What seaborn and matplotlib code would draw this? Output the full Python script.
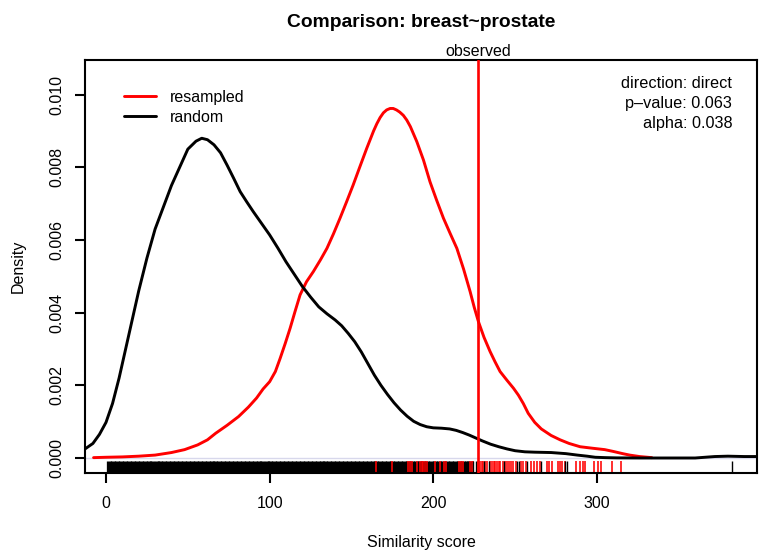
import matplotlib
matplotlib.use("Agg")
import matplotlib.pyplot as plt
import seaborn as sns
import pandas as pd

# ---------------- data ----------------
random_x = [-12.8, -8, -4, 0, 4, 8, 12, 16, 20, 25, 30, 35, 40, 45, 50, 55, 58.5,
            62, 66, 70, 74, 78, 82, 86, 90, 95, 100, 105, 110, 115, 120, 125, 130,
            135, 140, 144, 148, 152, 156, 160, 164, 168, 172, 176, 180, 184, 188,
            192, 196, 200, 205, 210, 214, 218, 222, 226, 230, 235, 240, 245, 250,
            256, 262, 272, 281, 288, 294, 299, 305, 312, 326, 345, 360, 366, 372,
            380, 390, 398]
random_y = [0.00025, 0.0004, 0.00065, 0.00098, 0.0015, 0.0022, 0.003, 0.0038,
            0.0046, 0.0055, 0.0063, 0.0069, 0.0075, 0.008, 0.0085, 0.00872,
            0.0088, 0.00876, 0.00862, 0.0084, 0.00806, 0.0077, 0.00733, 0.00705,
            0.00678, 0.00646, 0.00614, 0.00578, 0.0054, 0.00506, 0.00472, 0.00443,
            0.00416, 0.00397, 0.0038, 0.00364, 0.00343, 0.0032, 0.00292, 0.0026,
            0.00228, 0.002, 0.00175, 0.00152, 0.00132, 0.00115, 0.00101, 0.00092,
            0.00086, 0.00083, 0.00082, 0.0008, 0.00076, 0.0007, 0.00063, 0.00055,
            0.00047, 0.00038, 0.00031, 0.00025, 0.0002, 0.00017, 0.00016,
            0.00015, 0.00012, 0.00008, 0.00005, 0.00002, 0.00001, 0.000003, 0.0,
            0.0, 0.0, 0.00002, 0.00004, 0.00005, 0.00004, 0.00004]

resampled_x = [-7.6, 0, 10, 20, 30, 40, 48, 56, 62, 67, 74, 81, 87, 92, 96, 100,
               103.5, 106.4, 109.5, 112.5, 115.5, 118.6, 122.5, 126.7, 131, 135,
               139, 143, 147, 151, 155, 159.3, 163.5, 165.5, 167.5, 169.5, 171.5,
               173.6, 175.5, 177.5, 179.5, 181.7, 183.8, 186, 189.9, 194, 198, 202,
               206.2, 210.3, 214.4, 218.5, 222.5, 225, 227.6, 231, 234.7, 237.7,
               240.8, 245, 249, 252, 255, 258, 262, 266, 272, 277.5, 283, 289.7,
               297, 304.8, 310, 315.7, 320, 326, 333.5]
resampled_y = [0.00001, 0.00002, 0.00003, 0.00005, 0.00008, 0.00015, 0.00023,
               0.00036, 0.0005, 0.00068, 0.0009, 0.00114, 0.0014, 0.00165, 0.0019,
               0.0021, 0.00238, 0.00274, 0.00315, 0.00357, 0.00403, 0.00449,
               0.00485, 0.00513, 0.00545, 0.00577, 0.00617, 0.0066, 0.00705,
               0.00751, 0.008, 0.00852, 0.009, 0.0092, 0.00937, 0.0095, 0.00958,
               0.00962, 0.00962, 0.00958, 0.00952, 0.00943, 0.0093, 0.00912,
               0.00871, 0.0082, 0.0076, 0.0071, 0.0066, 0.00618, 0.00577, 0.0052,
               0.00458, 0.00415, 0.00375, 0.00332, 0.00293, 0.00265, 0.00238,
               0.00214, 0.00192, 0.00173, 0.0015, 0.00123, 0.00098, 0.0008,
               0.00062, 0.0005, 0.0004, 0.00031, 0.00027, 0.00023, 0.00018,
               0.00012, 0.00008, 0.00004, 0.00001]

# rug of random scores: dense part (solid block) and sparse part
random_rug_dense = [2, 4.3, 6.8, 9.1, 11.5, 14, 16.4, 18.7, 21.2, 23.6, 26, 28.3,
                    30.9, 33.2, 35.6, 38, 40.5, 42.8, 45.3, 47.7, 50, 52.4, 55,
                    57.3, 59.6, 62.1, 64.5, 66.9, 69.2, 71.8, 74.1, 76.5, 78.9,
                    81.3, 83.7, 86.1, 88.5, 91, 93.3, 95.6, 98.1, 100.5, 102.9,
                    105.3, 107.7, 110.1, 112.4, 114.9, 117.3, 119.7, 122.1, 124.5,
                    126.8, 129.3, 131.7, 134.1, 136.5, 138.9, 141.2, 143.7, 146.1,
                    148.5, 150.9, 153.2, 155.7, 158.1, 160.5, 162.9, 165.2, 167.6,
                    170, 172.4, 174.8, 177.2, 179.6, 182, 184.4, 186.8, 189.2,
                    191.6, 194, 196.4, 198.8, 201.2, 203.6, 206, 208.4, 210.8,
                    213.2, 215.6, 218, 220.4, 222]
random_rug_sparse = [224.2, 225.8, 231, 234, 243, 251.2, 252.6, 257, 266, 280.6,
                     281.4, 382.6]
# rug of resampled scores
resampled_rug = [165, 175, 184.4, 185.8, 187.2, 189.9, 191.8, 193, 194, 195, 196,
                 201, 204, 206.6, 207.8, 215.5, 217, 218.3, 222.5, 223.5, 224.4,
                 227.5, 228.5, 229.5, 230.5, 231.7, 233, 234.7, 236, 237, 238, 239,
                 240, 241, 242.3, 244, 245, 246, 247.5, 249, 250.5, 253.5, 255,
                 256.5, 260, 261.5, 263.5, 265, 269.4, 270.4, 272.4, 275.9, 277.5,
                 278.9, 280.5, 287.5, 289.7, 291.4, 292.8, 298.5, 300.5, 302.6,
                 309, 314.5]

observed = 227.6
series_labels = ["resampled", "random"]
info_lines = ["direction: direct", "p\u2013value: 0.063", "alpha: 0.038"]
title = "Comparison: breast~prostate"
x_ticks = [0, 100, 200, 300]
y_ticks = [0.000, 0.002, 0.004, 0.006, 0.008, 0.010]
y_ticklabels = ["0.000", "0.002", "0.004", "0.006", "0.008", "0.010"]

# ---------------- style ----------------
sns.set_style("ticks")
plt.rcParams["font.family"] = ["Liberation Sans", "DejaVu Sans"]
plt.rcParams["axes.linewidth"] = 1.5
plt.rcParams["text.color"] = "black"
plt.rcParams["axes.labelcolor"] = "black"
plt.rcParams["xtick.color"] = "black"
plt.rcParams["ytick.color"] = "black"

W, H = 759, 552
fig = plt.figure(figsize=(W / 100, H / 100), dpi=100)
ax = fig.add_axes([85 / W, 1 - 473 / H, 672 / W, 413 / H])

# zero reference line
ax.axhline(0, color="#d8d8ec", lw=1.0, zorder=1)

df_res = pd.DataFrame({"x": resampled_x, "y": resampled_y})
df_rnd = pd.DataFrame({"x": random_x, "y": random_y})
sns.lineplot(data=df_res, x="x", y="y", color="#ff0000", lw=2.1, ax=ax,
             label=series_labels[0], zorder=3)
sns.lineplot(data=df_rnd, x="x", y="y", color="black", lw=2.1, ax=ax,
             label=series_labels[1], zorder=4)
for ln in ax.get_lines():
    ln.set_solid_joinstyle("round")
    ln.set_solid_capstyle("round")

# rugs
sns.rugplot(x=random_rug_dense, height=0.03, color="black", linewidth=3.8,
            ax=ax, expand_margins=False, zorder=2)
sns.rugplot(x=resampled_rug, height=0.03, color="#ff0000", linewidth=1.15,
            ax=ax, expand_margins=False, zorder=2.5)
sns.rugplot(x=random_rug_sparse, height=0.03, color="black", linewidth=1.0,
            ax=ax, expand_margins=False, zorder=2.6)

# observed line
ax.axvline(observed, color="#ff0000", lw=1.9, zorder=5)
ax.annotate("observed", xy=(observed, 1), xycoords=("data", "axes fraction"),
            xytext=(0, 3), textcoords="offset points", ha="center",
            va="baseline", fontsize=11.5)

# info text
for i, line in enumerate(info_lines):
    ax.text(0.9633, 0.9440 - i * 0.0484, line, transform=ax.transAxes,
            ha="right", va="center", fontsize=11.7)

ax.set_xlim(-12.83, 397.8)
ax.set_ylim(-0.000413, 0.010954)
ax.set_xticks(x_ticks)
ax.set_xticklabels([str(t) for t in x_ticks])
ax.set_yticks(y_ticks)
ax.set_yticklabels(y_ticklabels, rotation=90, va="center")
ax.tick_params(direction="out", length=7.5, width=1.5, labelsize=11.5,
               color="black", labelcolor="black")
ax.tick_params(axis="x", pad=9)
ax.tick_params(axis="y", pad=7)
for s in ax.spines.values():
    s.set_visible(True)
    s.set_color("black")
    s.set_linewidth(1.5)

ax.set_xlabel("Similarity score", fontsize=11.5)
ax.set_ylabel("Density", fontsize=11.5)
ax.xaxis.set_label_coords(0.5, (473 - 543) / 413)
ax.xaxis.label.set_va("center")
ax.yaxis.set_label_coords((18 - 85) / 672, 0.5)
ax.yaxis.label.set_va("center")

ax.set_title(title, fontsize=13.9, fontweight="bold", pad=24, color="black")

handles, labels = ax.get_legend_handles_labels()
ax.legend(handles=handles, labels=labels, loc="upper left",
          bbox_to_anchor=((124 - 85) / 672, 1 - (90 - 60) / 413),
          frameon=False, fontsize=11.5, handlelength=2.0, handletextpad=0.9,
          labelspacing=0.3, borderpad=0, borderaxespad=0)

fig.savefig("out.png", dpi=100)
